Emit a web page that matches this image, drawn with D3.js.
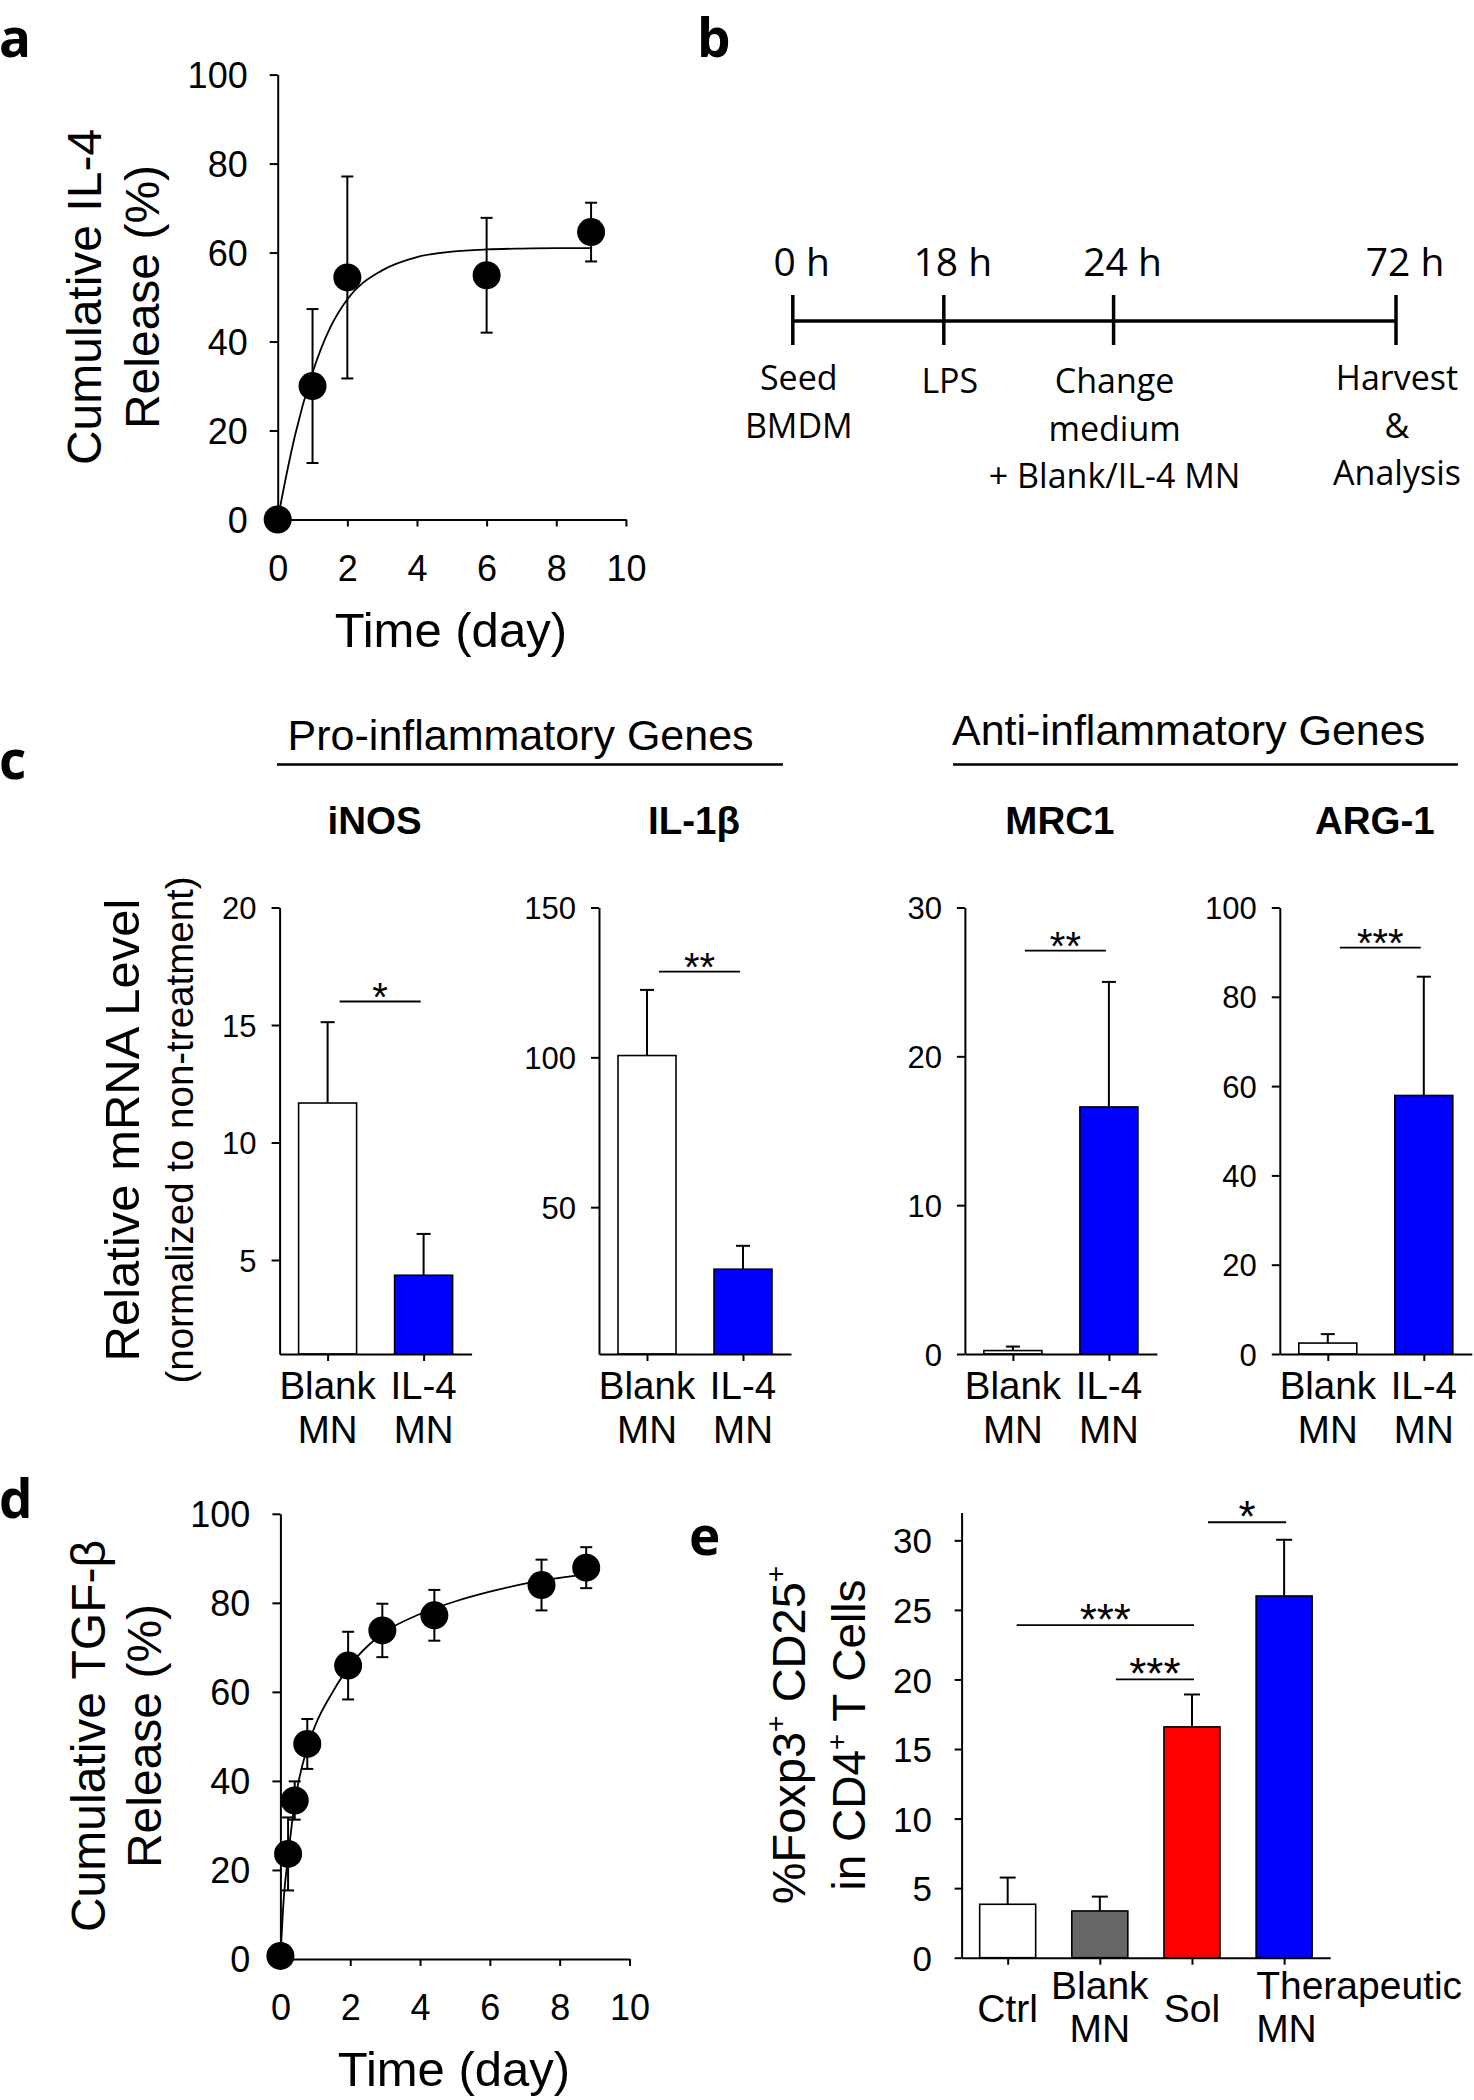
<!DOCTYPE html>
<html><head><meta charset="utf-8">
<script src="https://cdn.jsdelivr.net/npm/d3@7"></script>
<style>body{margin:0;background:#fff}svg{display:block;background:#fff}</style>
</head><body><svg id="fig" width="1474" height="2100"></svg>
<script>
// ================= DATA =================
// Panel a: cumulative IL-4 release
const aDays = [0, 1, 2, 6, 9];
const aRelease = [0, 30.0, 54.4, 54.9, 64.6];
const aError = [0, 17.3, 22.7, 12.9, 6.6];
const aFitDays = [0, 0.25, 0.5, 1, 1.5, 2, 3, 4, 5, 6, 7, 8, 9];
const aFitRelease = [0, 10, 19, 33, 43, 49.5, 56, 59, 60.2, 60.7, 60.9, 61, 61];
const releaseTicksX = [0, 2, 4, 6, 8, 10];
const releaseTicksY = [0, 20, 40, 60, 80, 100];

// Panel b: timeline
const bTimes = [0, 18, 24, 72];
const bTimeLabels = ["0 h", "18 h", "24 h", "72 h"];
const bEvents = [["Seed", "BMDM"], ["LPS"], ["Change", "medium", "+ Blank/IL-4 MN"], ["Harvest", "&", "Analysis"]];

// Panel c: relative mRNA levels
const cHeaders = ["Pro-inflammatory Genes", "Anti-inflammatory Genes"];
const cGenes = ["iNOS", "IL-1β", "MRC1", "ARG-1"];
const cGroups = ["Blank MN", "IL-4 MN"];
const cGroupLines = [["Blank", "MN"], ["IL-4", "MN"]];
const iNOSMean = [11.68, 4.35], iNOSErr = [3.44, 1.76];
const il1bMean = [100.6, 29.3], il1bErr = [21.9, 7.8];
const mrc1Mean = [0.23, 16.6], mrc1Err = [0.27, 8.4];
const arg1Mean = [2.45, 57.9], arg1Err = [2.0, 26.6];
const cAxisMin = [1, 1, 0, 0];
const cAxisMax = [20, 150, 30, 100];
const iNOSTicks = [5, 10, 15, 20];
const il1bTicks = [50, 100, 150];
const mrc1Ticks = [0, 10, 20, 30];
const arg1Ticks = [0, 20, 40, 60, 80, 100];
const cSigLabel = ["*", "**", "**", "***"];
const cSigValue = [16.0, 128.6, 27.1, 91.0];

// Panel d: cumulative TGF-beta release
const dDays = [0, 0.22, 0.41, 0.77, 1.94, 2.92, 4.41, 7.48, 8.76];
const dRelease = [0.7, 23.6, 35.6, 48.3, 65.9, 73.8, 77.2, 84.0, 87.9];
const dError = [0, 8.2, 4.3, 5.6, 7.6, 6.0, 5.7, 5.7, 4.6];
const dFitDays = [0, 0.1, 0.22, 0.41, 0.77, 1, 1.5, 2, 2.5, 3, 4, 5, 6, 7, 8, 8.76];
const dFitRelease = [0, 14, 23, 35, 47.5, 52.5, 60, 66, 70.3, 73.5, 77.5, 80.3, 82.5, 84.3, 85.6, 86.4];

// Panel e: Treg percentages
const eGroups = ["Ctrl", "Blank MN", "Sol", "Therapeutic MN"];
const eGroupLines = [["Ctrl"], ["Blank", "MN"], ["Sol"], ["Therapeutic", "MN"]];
const eMean = [3.84, 3.36, 16.59, 26.0];
const eErr = [1.92, 1.03, 2.33, 4.04];
const eColors = ["#ffffff", "#666666", "#ff0000", "#0000ff"];
const eTicks = [0, 5, 10, 15, 20, 25, 30];
const eSigFrom = [0, 1, 2], eSigTo = [2, 2, 3];
const eSigValue = [23.9, 20.0, 31.3];
const eSigLabel = ["***", "***", "*"];

// ================= DRAW =================
const FONT = "'Liberation Sans', Arial, sans-serif";
const CAL = "'Open Sans', 'Noto Sans', sans-serif";
const svg = d3.select("#fig");
svg.append("rect").attr("width", 1474).attr("height", 2100).attr("fill", "#fff");

function styleAxis(g, size) {
  g.attr("font-family", FONT).attr("font-size", size);
  g.selectAll("path,line").attr("stroke", "#000").attr("stroke-width", 2);
  g.selectAll("text").attr("fill", "#000");
}

function panelLetter(t, x, y) {
  svg.append("text").attr("x", x).attr("y", y).text(t)
    .attr("font-family", CAL).attr("font-weight", 700).attr("font-size", 53).attr("fill", "#000");
}

function rotTitle(lines, cy) {
  lines.forEach(l => {
    const t = svg.append("text").attr("transform", `translate(${l.x},${cy}) rotate(-90)`)
      .attr("text-anchor", "middle").attr("font-family", FONT).attr("font-size", l.size).attr("fill", "#000");
    let raised = false;
    l.parts.forEach(p => {
      if (typeof p === "string") {
        const s = t.append("tspan").text(p);
        if (raised) { s.attr("dy", l.size * 0.42); raised = false; }
      } else {
        t.append("tspan").text(p.sup).attr("font-size", l.size * 0.6).attr("dy", -l.size * 0.42);
        raised = true;
      }
    });
  });
}

function releasePanel(o) {
  const x = d3.scaleLinear().domain([0, 10]).range([o.x0, o.x1]);
  const y = d3.scaleLinear().domain([0, 100]).range([o.y0, o.y1]);
  const xa = svg.append("g").attr("transform", `translate(0,${o.y0})`)
    .call(d3.axisBottom(x).tickValues(releaseTicksX).tickSize(7).tickSizeOuter(0));
  styleAxis(xa, 36);
  xa.selectAll("text").attr("dy", null).attr("y", 61);
  const ya = svg.append("g").attr("transform", `translate(${o.x0},0)`)
    .call(d3.axisLeft(y).tickValues(releaseTicksY).tickSize(8).tickSizeOuter(0));
  styleAxis(ya, 36);
  ya.selectAll("text").attr("x", -30).attr("dy", "0.36em");

  const line = d3.line().x((d, i) => x(o.fitX[i])).y(d => y(d)).curve(d3.curveMonotoneX);
  svg.append("path").attr("d", line(o.fitY)).attr("fill", "none").attr("stroke", "#000").attr("stroke-width", 1.8);

  const eb = svg.append("g").attr("stroke", "#000").attr("stroke-width", 2);
  o.xs.forEach((d, i) => {
    if (!o.err[i]) return;
    const cx = x(d), t = y(o.ys[i] + o.err[i]), b = y(o.ys[i] - o.err[i]);
    eb.append("line").attr("x1", cx).attr("x2", cx).attr("y1", t).attr("y2", b);
    eb.append("line").attr("x1", cx - 6).attr("x2", cx + 6).attr("y1", t).attr("y2", t);
    eb.append("line").attr("x1", cx - 6).attr("x2", cx + 6).attr("y1", b).attr("y2", b);
  });
  svg.append("g").selectAll("circle").data(o.ys).join("circle")
    .attr("cx", (d, i) => x(o.xs[i])).attr("cy", d => y(d)).attr("r", 14).attr("fill", "#000");

  svg.append("text").attr("x", (o.x0 + o.x1) / 2 - 1).attr("y", o.y0 + 127).attr("text-anchor", "middle")
    .attr("font-family", FONT).attr("font-size", 49).text("Time (day)");
}

// ---- Panel a ----
panelLetter("a", -1, 57);
releasePanel({x0: 277.7, x1: 625.9, y0: 519.5, y1: 74.6, xs: aDays, ys: aRelease, err: aError,
  fitX: aFitDays, fitY: aFitRelease});
rotTitle([{x: 100.5, size: 48, parts: ["Cumulative IL-4"]}, {x: 158.5, size: 48, parts: ["Release (%)"]}], 297);

// ---- Panel b ----
panelLetter("b", 697, 57);
{
  const t = d3.scaleLinear().domain(bTimes).range([792.8, 943.8, 1113.6, 1396]);
  const g = svg.append("g").attr("stroke", "#000").attr("stroke-width", 3.5);
  g.append("line").attr("x1", t(bTimes[0])).attr("x2", t(bTimes[bTimes.length - 1])).attr("y1", 320.9).attr("y2", 320.9);
  bTimes.forEach(v => g.append("line").attr("x1", t(v)).attr("x2", t(v)).attr("y1", 295).attr("y2", 345));
  bTimes.forEach((v, i) => {
    svg.append("text").attr("x", t(v) + 9).attr("y", 275.5).attr("text-anchor", "middle")
      .attr("font-family", CAL).attr("font-size", 39).text(bTimeLabels[i]);
    bEvents[i].forEach((s, k) => {
      svg.append("text").attr("x", t(v) + (i < 2 ? 6 : 1))
        .attr("y", (i === 1 || i === 2 ? 393 : 390) + 47.5 * k).attr("text-anchor", "middle")
        .attr("font-family", CAL).attr("font-size", 34).text(s);
    });
  });
}

// ---- Panel c ----
panelLetter("c", -1, 779);
svg.append("text").attr("x", 287.6).attr("y", 749.7).attr("font-family", FONT).attr("font-size", 43).text(cHeaders[0]);
svg.append("text").attr("x", 952).attr("y", 744.7).attr("font-family", FONT).attr("font-size", 43).text(cHeaders[1]);
svg.append("line").attr("x1", 277).attr("x2", 783).attr("y1", 764.6).attr("y2", 764.6).attr("stroke", "#000").attr("stroke-width", 2.5);
svg.append("line").attr("x1", 953).attr("x2", 1458).attr("y1", 764.6).attr("y2", 764.6).attr("stroke", "#000").attr("stroke-width", 2.5);
{
  const axisX = [279.6, 599, 964.9, 1279.8];
  const means = [iNOSMean, il1bMean, mrc1Mean, arg1Mean];
  const errs = [iNOSErr, il1bErr, mrc1Err, arg1Err];
  const ticks = [iNOSTicks, il1bTicks, mrc1Ticks, arg1Ticks];
  const fills = ["#ffffff", "#0000ff"];
  cGenes.forEach((gene, i) => {
    const ax = axisX[i];
    const y = d3.scaleLinear().domain([cAxisMin[i], cAxisMax[i]]).range([1354, 907.5]);
    const x = d3.scalePoint().domain(cGroups).range([ax, ax + 192]).padding(0.5);
    svg.append("text").attr("x", ax + 95).attr("y", 834).attr("text-anchor", "middle")
      .attr("font-family", FONT).attr("font-weight", 700).attr("font-size", 38.5).text(gene);
    // bars
    cGroups.forEach((grp, j) => {
      const cx = x(grp), top = y(means[i][j]);
      svg.append("rect").attr("x", cx - 29).attr("width", 58).attr("y", top).attr("height", y(cAxisMin[i]) - top)
        .attr("fill", fills[j]).attr("stroke", "#000").attr("stroke-width", 1.6);
      const et = y(means[i][j] + errs[i][j]);
      svg.append("line").attr("x1", cx).attr("x2", cx).attr("y1", top).attr("y2", et).attr("stroke", "#000").attr("stroke-width", 2);
      svg.append("line").attr("x1", cx - 7).attr("x2", cx + 7).attr("y1", et).attr("y2", et).attr("stroke", "#000").attr("stroke-width", 2);
      cGroupLines[j].forEach((s, k) => {
        svg.append("text").attr("x", cx).attr("y", 1399 + 44 * k).attr("text-anchor", "middle")
          .attr("font-family", FONT).attr("font-size", 38.5).text(s);
      });
    });
    const xa = svg.append("g").attr("transform", "translate(0,1354)")
      .call(d3.axisBottom(x).tickSize(7).tickSizeOuter(0).tickFormat(""));
    styleAxis(xa, 30);
    const ya = svg.append("g").attr("transform", `translate(${ax},0)`)
      .call(d3.axisLeft(y).tickValues(ticks[i]).tickSize(8).tickSizeOuter(0));
    styleAxis(ya, 31);
    ya.selectAll("text").attr("x", -23).attr("dy", "0.36em");
    // significance
    const sy = y(cSigValue[i]);
    const x1 = x(cGroups[0]) + 12, x2 = x(cGroups[1]) - 3;
    svg.append("line").attr("x1", x1).attr("x2", x2).attr("y1", sy).attr("y2", sy).attr("stroke", "#000").attr("stroke-width", 1.8);
    svg.append("text").attr("x", (x1 + x2) / 2).attr("y", sy + 9).attr("text-anchor", "middle")
      .attr("font-family", FONT).attr("font-size", 40).text(cSigLabel[i]);
  });
  rotTitle([{x: 138.6, size: 49, parts: ["Relative mRNA Level"]},
            {x: 193, size: 38.5, parts: ["(normalized to non-treatment)"]}], 1130);
}

// ---- Panel d ----
panelLetter("d", -1, 1518);
releasePanel({x0: 280.4, x1: 629.5, y0: 1959, y1: 1513.8, xs: dDays, ys: dRelease, err: dError,
  fitX: dFitDays, fitY: dFitRelease});
rotTitle([{x: 104.9, size: 48, parts: ["Cumulative TGF-β"]}, {x: 160.7, size: 48, parts: ["Release (%)"]}], 1736);

// ---- Panel e ----
panelLetter("e", 689, 1555);
{
  const ax = 961.6;
  const y = d3.scaleLinear().domain([0, 32]).range([1957.7, 1512.5]);
  const x = d3.scalePoint().domain(eGroups).range([ax, ax + 368.6]).padding(0.5);
  const bw = 56;
  eGroups.forEach((grp, j) => {
    const cx = x(grp), top = y(eMean[j]);
    svg.append("rect").attr("x", cx - bw / 2).attr("width", bw).attr("y", top).attr("height", y(0) - top)
      .attr("fill", eColors[j]).attr("stroke", "#000").attr("stroke-width", 1.6);
    const et = y(eMean[j] + eErr[j]);
    svg.append("line").attr("x1", cx).attr("x2", cx).attr("y1", top).attr("y2", et).attr("stroke", "#000").attr("stroke-width", 2);
    svg.append("line").attr("x1", cx - 8).attr("x2", cx + 8).attr("y1", et).attr("y2", et).attr("stroke", "#000").attr("stroke-width", 2);
    const lines = eGroupLines[j];
    const left = j === eGroups.length - 1;
    lines.forEach((s, k) => {
      svg.append("text").attr("x", left ? cx - bw / 2 : cx)
        .attr("y", lines.length === 1 ? 2022 : 1998.7 + 43.7 * k)
        .attr("text-anchor", left ? "start" : "middle")
        .attr("font-family", FONT).attr("font-size", 39).text(s);
    });
  });
  const xa = svg.append("g").attr("transform", "translate(0,1957.7)")
    .call(d3.axisBottom(x).tickSize(7).tickSizeOuter(0).tickFormat(""));
  styleAxis(xa, 30);
  const ya = svg.append("g").attr("transform", `translate(${ax},0)`)
    .call(d3.axisLeft(y).tickValues(eTicks).tickSize(7).tickSizeOuter(0));
  styleAxis(ya, 35);
  ya.selectAll("text").attr("x", -29.6).attr("dy", "0.36em");
  eSigFrom.forEach((f, i) => {
    const sy = y(eSigValue[i]);
    const x1 = x(eGroups[f]) + (i === 0 ? 9 : 16), x2 = x(eGroups[eSigTo[i]]) + 2;
    svg.append("line").attr("x1", x1).attr("x2", x2).attr("y1", sy).attr("y2", sy).attr("stroke", "#000").attr("stroke-width", 1.8);
    svg.append("text").attr("x", (x1 + x2) / 2).attr("y", sy + 9.5).attr("text-anchor", "middle")
      .attr("font-family", FONT).attr("font-size", 44).text(eSigLabel[i]);
  });
  rotTitle([{x: 804.6, size: 47, parts: ["%Foxp3", {sup: "+"}, " CD25", {sup: "+"}]},
            {x: 865.4, size: 46, parts: ["in CD4", {sup: "+"}, " T Cells"]}], 1735);
}
</script>
</body></html>
